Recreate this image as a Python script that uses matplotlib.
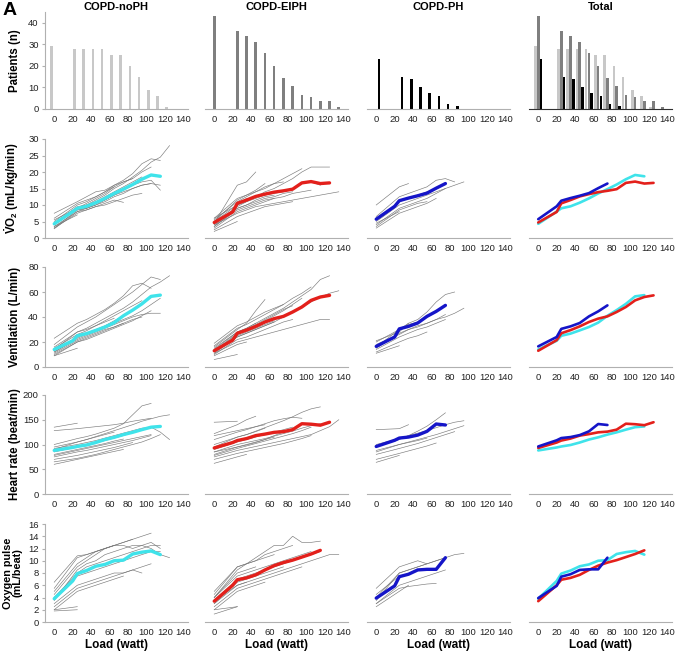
import numpy as np
import matplotlib.pyplot as plt

plt.rcParams['font.family'] = ['Liberation Sans', 'DejaVu Sans']
plt.rcParams['mathtext.fontset'] = 'custom'
plt.rcParams['mathtext.rm'] = 'Liberation Sans'
plt.rcParams['mathtext.bf'] = 'Liberation Sans:bold'

LOADS = [0, 25, 35, 45, 55, 65, 75, 85, 95, 105, 115, 125, 135]
MEAN_LOADS = [0, 20, 25, 35, 45, 55, 65, 75, 85, 95, 105, 115, 125]
groups = ['COPD-noPH', 'COPD-EIPH', 'COPD-PH', 'Total']

# patients per load step
n_noph = [29, 28, 28, 28, 28, 25, 25, 20, 15, 9, 6, 1, 0]
n_eiph = [43, 36, 34, 31, 26, 20, 14.5, 10.5, 6.5, 5.5, 3.5, 3.5, 1]
n_ph = [23, 15, 14, 10, 7.5, 6, 2.5, 1.5, 0, 0, 0, 0, 0]

# group means
vo2_noph = [4.3, 8.0, 9.0, 9.6, 10.7, 12.0, 13.5, 14.8, 16.2, 17.8, 19.1, 18.7]
vo2_eiph = [4.7, 7.9, 10.5, 11.5, 12.6, 13.3, 13.9, 14.3, 14.8, 16.7, 17.1, 16.5, 16.7]
vo2_ph = [5.7, 9.6, 11.3, 12.1, 12.8, 13.6, 15.1, 16.5]
ve_noph = [14.0, 21.0, 25.0, 26.7, 29.3, 32.0, 35.5, 41.0, 45.5, 50.5, 56.5, 57.5]
ve_eiph = [13.0, 21.5, 27.0, 29.5, 32.5, 36.0, 38.7, 40.5, 44.0, 48.0, 53.3, 56.0, 57.3]
ve_ph = [16.5, 24.0, 30.5, 32.5, 35.2, 40.5, 44.5, 49.3]
hr_noph = [88, 94, 96, 99, 104, 110, 114.5, 120, 124.6, 130, 135, 136.5]
hr_eiph = [93, 104, 108, 112, 118, 121, 124.6, 126, 130, 142, 141, 139, 145]
hr_ph = [96, 108.5, 113, 115, 119, 126.6, 141.4, 139.4]
op_noph = [3.8, 6.7, 7.9, 8.4, 9.1, 9.4, 10.0, 10.1, 11.1, 11.4, 11.6, 11.0]
op_eiph = [3.4, 6.0, 6.9, 7.2, 7.7, 8.5, 9.2, 9.7, 10.1, 10.6, 11.1, 11.7]
op_ph = [3.9, 5.9, 7.4, 7.8, 8.5, 8.6, 8.6, 10.5]

# individual patients (values at LOADS)
vo2_ind_noph = [
    [4.0, 9.0, 10.0, 11.5, 13.0, 15.0, 16.5, 18.5, 20.5, 23.0, 24.5, 28.0],
    [5.0, 10.0, 11.0, 12.5, 14.0, 16.0, 17.5, 19.5, 22.5, 24.0, 23.5],
    [3.5, 8.0, 9.0, 10.0, 11.5, 13.0, 14.5, 16.0, 17.0, 17.5, 14.5],
    [7.5, 11.0, 12.5, 14.0, 14.5, 16.0, 17.0, 18.0, 20.0, 21.5],
    [3.0, 8.5, 9.0, 10.0, 11.0, 12.5, 13.5, 15.0, 16.0, 16.5],
    [4.5, 9.5, 10.0, 11.0, 12.5, 14.0, 15.5, 17.0, 18.5],
    [5.5, 9.0, 10.5, 12.0, 13.5, 15.5, 17.0, 18.0],
    [3.0, 7.5, 8.5, 9.5, 10.5, 11.5, 10.8],
    [6.0, 10.5, 11.5, 12.5, 14.0, 15.5],
    [4.5, 8.5, 9.0, 10.5, 11.5, 13.0, 14.0, 15.0, 16.0, 16.5, 16.0],
    [2.8, 8.0, 8.5, 9.5, 10.0, 11.0, 12.0, 13.0, 13.5],
    [3.5, 7.0],
]
vo2_ind_eiph = [
    [4.0, 7.5, 8.5, 9.5, 10.0, 10.5, 11.0, 11.5, 12.0, 12.5, 13.0, 13.5, 14.0],
    [5.0, 10.0, 11.0, 12.5, 14.0, 15.0, 16.5, 18.0, 20.0, 21.5, 21.5, 21.5],
    [4.5, 9.5, 11.0, 12.0, 13.0, 13.5, 14.0, 15.0, 16.5, 17.0, 16.0],
    [3.0, 8.0, 9.0, 10.0, 11.0, 12.0, 12.5, 13.5, 14.0, 14.5],
    [5.5, 11.0, 12.5, 14.0, 15.0, 16.5, 18.0, 19.5, 21.0],
    [4.0, 9.0, 10.0, 11.0, 12.0, 12.5, 13.5, 14.0],
    [6.0, 12.0, 13.0, 14.0, 15.5, 16.5, 17.0],
    [3.5, 8.5, 9.5, 10.5, 11.5, 12.0],
    [5.0, 11.5, 13.0, 14.5, 16.5],
    [4.5, 16.0, 17.0, 20.0],
    [6.0, 10.0, 12.0],
    [2.5, 6.5, 7.5, 8.5, 9.5, 10.0, 10.5, 11.0],
    [3.5, 9.0, 10.0, 11.5, 12.5, 13.0],
    [2.0, 5.0],
]
vo2_ind_ph = [
    [5.0, 10.0, 11.0, 12.0, 13.0, 14.0, 15.0, 16.0, 17.0],
    [6.5, 12.5, 13.5, 14.5, 15.5, 17.5, 18.0, 17.0],
    [4.0, 9.0, 10.0, 11.0, 12.0, 13.5, 15.0],
    [5.5, 11.0, 12.0, 13.0, 14.0, 15.0],
    [3.5, 8.5, 9.5, 10.5, 11.0],
    [10.0, 15.5, 16.5],
    [4.5, 8.0],
    [3.0, 7.5, 8.5, 9.5, 10.5, 12.0],
]

ve_ind_noph = [
    [14, 28, 31, 35, 39, 43, 47, 52, 58, 64, 68, 73],
    [18, 32, 36, 40, 45, 50, 55, 60, 66, 72, 70],
    [12, 22, 25, 28, 31, 34, 37, 40, 42, 43, 43],
    [23, 35, 38, 42, 46, 51, 57, 65, 67, 63],
    [10, 20, 22, 25, 28, 31, 34, 37, 41, 45],
    [15, 26, 29, 33, 37, 41, 45, 49, 53],
    [13, 24, 27, 30, 33, 37, 41, 45],
    [11, 21, 24, 27, 30, 32, 35],
    [16, 28, 30, 33, 36, 39],
    [12, 23, 26, 29, 32, 35, 38, 41, 45, 50, 55],
    [9, 20, 23, 26, 29, 32, 35, 38, 40],
    [9, 15],
]
ve_ind_eiph = [
    [14, 24, 27, 30, 33, 36, 40, 44, 48, 52, 56, 59, 61],
    [15, 28, 31, 35, 39, 43, 47, 52, 57, 62, 70, 73],
    [11, 20, 22, 24, 26, 28, 30, 32, 34, 36, 38, 38],
    [17, 31, 34, 38, 42, 46, 50, 55, 59, 64],
    [13, 26, 29, 33, 37, 41, 45, 50, 55],
    [10, 22, 24, 27, 30, 33, 36, 38],
    [19, 33, 36, 40, 44, 47, 50],
    [12, 25, 28, 31, 34, 37],
    [16, 30, 35, 45, 54],
    [14, 28, 31, 35],
    [9, 18, 20],
    [13, 27, 30, 34, 38, 42, 46, 49],
    [11, 24, 27, 30, 33, 36],
    [6, 10],
]
ve_ind_ph = [
    [18, 26, 30, 33, 35, 38, 40, 43, 47],
    [16, 30, 35, 38, 44, 52, 58, 60],
    [14, 24, 27, 30, 32, 35, 38],
    [20, 30, 34, 36, 40, 44],
    [12, 20, 23, 25, 28],
    [21, 28, 35],
    [11, 17],
    [15, 27, 30, 32, 35, 38, 42],
]

hr_ind_noph = [
    [90, 105, 110, 116, 122, 128, 134, 140, 147, 152, 157, 160],
    [100, 112, 116, 121, 127, 133, 142, 160, 178, 183],
    [65, 72, 76, 80, 85, 90, 95, 100, 105, 112, 120],
    [128, 132, 134, 136, 138, 140, 143, 147, 150, 153],
    [75, 85, 88, 92, 96, 100, 104, 108, 113, 118],
    [85, 95, 99, 103, 108, 113, 118, 124, 130],
    [70, 78, 82, 86, 90, 94, 99, 104],
    [80, 90, 94, 98, 102, 107, 111],
    [95, 105, 110, 115, 120, 125],
    [92, 100, 104, 108, 113, 118, 123, 128, 133, 135, 125, 110],
    [78, 88, 92, 96, 100, 104, 108, 112, 116, 120],
    [135, 143],
    [60, 70, 74, 78, 82, 86, 90],
]
hr_ind_eiph = [
    [75, 88, 92, 96, 100, 104, 108, 112, 116, 120, 128, 136, 150],
    [95, 115, 120, 127, 134, 141, 148, 156, 165, 172, 176],
    [85, 100, 104, 108, 112, 117, 122, 127, 133, 138, 142],
    [70, 82, 86, 90, 94, 98, 102, 107, 112, 118],
    [110, 125, 130, 136, 142, 148, 152, 155, 153],
    [90, 105, 110, 115, 120, 125, 130, 135],
    [122, 140, 150, 157],
    [80, 95, 99, 104, 110, 115],
    [145, 147],
    [100, 115, 120, 126, 133],
    [62, 75, 80],
    [85, 95, 100, 105, 110, 118, 125],
    [78, 92, 97, 102, 107, 112, 117, 122, 128, 135],
    [118, 128, 132, 136, 140],
]
hr_ind_ph = [
    [100, 112, 118, 123, 128, 134, 140, 145, 148],
    [95, 110, 118, 127, 137, 150, 164],
    [80, 92, 97, 102, 108, 114, 120, 126],
    [70, 82, 87, 92, 97, 103],
    [130, 132, 140],
    [85, 100, 104, 108, 113],
    [64, 78],
    [88, 100, 105, 110, 115, 120, 126, 132, 138],
]

op_ind_noph = [
    [4.5, 9.0, 10.0, 11.0, 12.0, 12.5, 13.0, 13.5, 14.0, 14.5],
    [5.5, 10.5, 11.0, 11.5, 12.0, 12.5, 12.5, 12.0, 12.5, 13.0, 12.0],
    [2.5, 5.5, 6.0, 6.5, 7.0, 7.5, 8.0, 8.5, 9.0, 9.5],
    [3.5, 8.5, 9.5, 10.0, 11.0, 11.5, 12.0, 12.5, 12.5, 12.0, 11.0, 10.5],
    [6.5, 10.8, 11.0, 11.5, 12.0, 12.5, 13.0, 13.5],
    [3.0, 6.0, 6.5, 7.0, 7.5, 8.0, 8.0, 8.5, 8.0],
    [4.0, 7.5, 8.0, 8.5, 9.0, 9.5, 10.0, 10.5, 11.0, 11.5, 11.5],
    [2.0, 5.0, 5.5, 6.0, 6.5, 7.0, 7.5],
    [5.0, 9.5, 10.5, 11.5, 12.0, 12.5],
    [4.0, 8.0, 9.0, 9.5, 10.0, 10.5, 11.0, 11.5, 12.0, 12.5, 12.5],
    [2.0, 2.5],
    [1.8, 2.0],
]
op_ind_eiph = [
    [3.0, 6.0, 6.5, 7.0, 7.5, 8.0, 8.5, 9.0, 9.5, 10.0, 10.5, 11.0, 11.0],
    [4.0, 8.5, 9.5, 10.5, 11.5, 12.5, 12.5, 14.0, 13.0, 13.0, 13.2],
    [3.5, 7.0, 7.5, 8.0, 8.5, 9.0, 9.5, 10.0, 10.5, 11.0, 11.5],
    [2.5, 5.5, 6.0, 6.5, 7.0, 7.5, 8.0, 8.5, 9.0],
    [4.5, 9.0, 9.5, 10.0, 11.0, 11.5, 12.0, 12.5],
    [3.0, 6.5, 7.0, 7.5, 8.0, 8.5, 9.0],
    [5.0, 9.0, 9.5, 10.0, 10.5, 11.0],
    [2.0, 5.0, 5.5, 6.0, 6.5],
    [4.0, 8.0, 8.5, 9.0],
    [3.5, 6.0, 6.5],
    [4.0, 7.5, 8.0, 8.5, 9.0, 9.5, 10.0, 10.5, 11.0, 11.5],
    [1.3, 2.5],
    [2.0, 2.5],
]
op_ind_ph = [
    [4.0, 8.0, 8.5, 9.0, 9.5, 10.0, 10.5, 11.0, 11.2],
    [3.5, 8.0, 8.5, 9.0, 9.5, 10.0, 10.5],
    [3.0, 6.0, 6.5, 7.0, 7.5, 8.0, 8.5],
    [3.0, 5.5, 5.8, 6.0, 6.2, 6.3],
    [5.5, 9.0, 9.5, 10.0, 9.5],
    [2.5, 5.0, 6.0],
    [4.5, 7.5],
]

rows = [
    (r'$\mathbf{\dot{V}O_2}$ (mL/kg/min)', 30, 5, [vo2_noph, vo2_eiph, vo2_ph],
     [vo2_ind_noph, vo2_ind_eiph, vo2_ind_ph]),
    ('Ventilation (L/min)', 80, 20, [ve_noph, ve_eiph, ve_ph],
     [ve_ind_noph, ve_ind_eiph, ve_ind_ph]),
    ('Heart rate (beat/min)', 200, 50, [hr_noph, hr_eiph, hr_ph],
     [hr_ind_noph, hr_ind_eiph, hr_ind_ph]),
    ('Oxygen pulse\n(mL/beat)', 16, 2, [op_noph, op_eiph, op_ph],
     [op_ind_noph, op_ind_eiph, op_ind_ph]),
]

mean_colors = ['#3fe3ea', '#e3201b', '#1515c8']
bar_colors = ['#c8c8c8', '#7f7f7f', '#000000']
offsets = [-3, 0, 3]
counts = [n_noph, n_eiph, n_ph]

W, H = 676, 651
fig = plt.figure(figsize=(W / 100, H / 100), dpi=100)
col_left = [45, 205, 367, 529]
row_px = [(12, 109), (139, 238), (267, 367), (395, 494), (524, 622)]


def make_ax(r, c):
    top, bot = row_px[r]
    ax = fig.add_axes([col_left[c] / W, 1 - bot / H, 143 / W, (bot - top) / H])
    ax.set_xlim(-10, 145)
    ax.set_xticks(range(0, 141, 20))
    for s in ['top', 'right']:
        ax.spines[s].set_visible(False)
    ax.spines['bottom'].set_color('#b0b0b0')
    ax.spines['left'].set_color('#b0b0b0')
    ax.tick_params(axis='x', length=0, labelsize=6.8, labelcolor='#222', pad=4)
    ax.tick_params(axis='y', length=2.5, color='#b0b0b0', labelsize=6.8,
                   labelcolor='#222', pad=2)
    if c > 0:
        ax.spines['left'].set_visible(False)
        ax.set_yticks([])
    return ax


# top row: patient counts
for c in range(4):
    ax = make_ax(0, c)
    ax.set_ylim(0, 45)
    ax.set_title(groups[c], fontsize=8, fontweight='bold', pad=-2)
    which = [c] if c < 3 else [0, 1, 2]
    for g in which:
        xs = np.array(LOADS) + offsets[g]
        ax.bar(xs, counts[g], width=2.8, color=bar_colors[g], linewidth=0)
    if c == 3:
        ax.spines['bottom'].set_color('#303030')
    if c == 0:
        ax.set_yticks([0, 10, 20, 30, 40])
        ax.set_ylabel('Patients (n)', fontsize=8.3, fontweight='bold')
        ax.yaxis.set_label_coords(-0.165, 0.5)

for r, (label, ymax, ystep, means, indiv) in enumerate(rows, start=1):
    for c in range(4):
        ax = make_ax(r, c)
        ax.set_ylim(0, ymax)
        if c < 3:
            for vals in indiv[c]:
                ax.plot(LOADS[:len(vals)], vals, color='#7a7a7a', lw=0.45)
            m = means[c]
            ax.plot(MEAN_LOADS[:len(m)], m, color=mean_colors[c], lw=2.4,
                    solid_capstyle='round')
        else:
            for g in range(3):
                m = means[g]
                ax.plot(MEAN_LOADS[:len(m)], m, color=mean_colors[g], lw=1.9,
                        solid_capstyle='round')
        if c == 0:
            ax.set_yticks(np.arange(0, ymax + 0.1, ystep))
            if r < 4:
                ax.set_ylabel(label, fontsize=8.3, fontweight='bold')
                ax.yaxis.set_label_coords(-0.165, 0.5)
            else:
                ax.set_ylabel(label, fontsize=7.8, fontweight='bold',
                              linespacing=0.95)
                ax.yaxis.set_label_coords(-0.155, 0.5)
        if r == 4:
            ax.set_xlabel('Load (watt)', fontsize=8.5, fontweight='bold', labelpad=2)

fig.text(0.004, 0.997, 'A', fontsize=14, fontweight='bold', va='top', ha='left')

fig.savefig('out.png', dpi=100)
